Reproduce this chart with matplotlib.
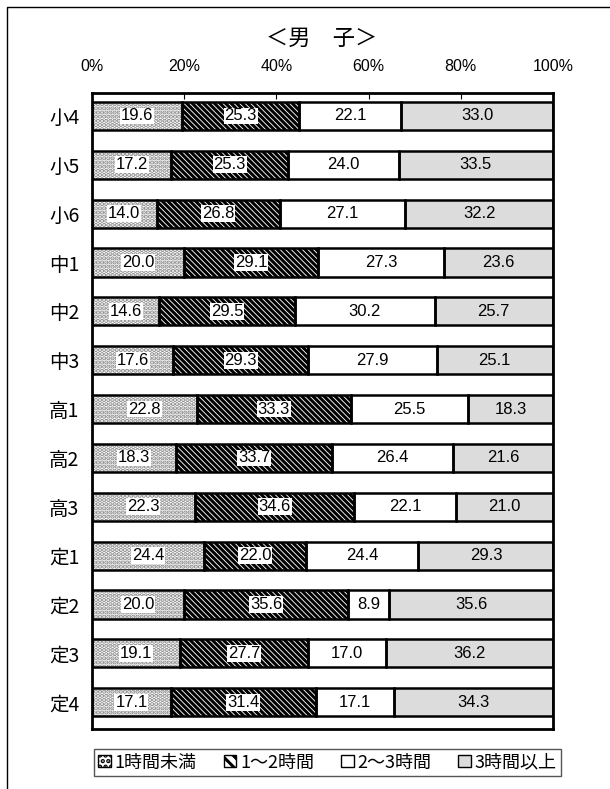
import matplotlib.pyplot as plt
import matplotlib.patches as mpatches
from matplotlib.lines import Line2D
import numpy as np

plt.rcParams['font.family'] = ['Noto Sans CJK JP', 'DejaVu Sans']
plt.rcParams['hatch.linewidth'] = 2.2

categories = ['小4', '小5', '小6', '中1', '中2', '中3', '高1', '高2', '高3',
              '定1', '定2', '定3', '定4']
under1 = [19.6, 17.2, 14.0, 20.0, 14.6, 17.6, 22.8, 18.3, 22.3, 24.4, 20.0, 19.1, 17.1]
h1to2 = [25.3, 25.3, 26.8, 29.1, 29.5, 29.3, 33.3, 33.7, 34.6, 22.0, 35.6, 27.7, 31.4]
h2to3 = [22.1, 24.0, 27.1, 27.3, 30.2, 27.9, 25.5, 26.4, 22.1, 24.4, 8.9, 17.0, 17.1]
over3 = [33.0, 33.5, 32.2, 23.6, 25.7, 25.1, 18.3, 21.6, 21.0, 29.3, 35.6, 36.2, 34.3]
series_names = ['1時間未満', '1～2時間', '2～3時間', '3時間以上']
xticks = [0, 20, 40, 60, 80, 100]

series = [under1, h1to2, h2to3, over3]
faces = ['white', 'white', 'white', '#dcdcdc']
hatches = ['....', '\\\\\\\\\\\\', None, None]
hcolors = ['#888888', 'black', 'black', 'black']
numfont = ['Liberation Sans', 'DejaVu Sans']

fig = plt.figure(figsize=(6.1, 7.89), dpi=100)
ax = fig.add_axes([0.1508, 0.0760, 0.7558, 0.8061])

y = np.arange(len(categories))
left = np.zeros(len(categories))
for vals, fc, ht, hc in zip(series, faces, hatches, hcolors):
    vals = np.array(vals)
    ax.barh(y, vals, left=left, height=0.575, color=fc, hatch=ht,
            edgecolor=hc, linewidth=0, zorder=2)
    # black outline on top of the hatch
    ax.barh(y, vals, left=left, height=0.575, fill=False,
            edgecolor='black', linewidth=1.8, zorder=3)
    for yi, l, v in zip(y, left, vals):
        t = ax.text(l + v / 2, yi, f'{v:.1f}', ha='center', va='center',
                    fontsize=12, family=numfont, zorder=5)
        if ht:
            t.set_bbox(dict(facecolor='white', edgecolor='none', pad=0.6))
    left += vals

ax.set_xlim(0, 100)
ax.set_ylim(12.55, -0.47)
ax.set_yticks(y)
ax.set_yticklabels(categories, fontsize=14)
ax.tick_params(axis='y', length=0, pad=9)
ax.xaxis.tick_top()
ax.set_xticks(xticks)
ax.set_xticklabels([f'{t}%' for t in xticks], fontsize=11.5, family=numfont)
ax.tick_params(axis='x', direction='in', length=4, pad=14)
for s in ax.spines.values():
    s.set_linewidth(2)

fig.text(0.528, 0.951, '＜男　子＞', ha='center', va='center', fontsize=16)

handles = [mpatches.Patch(facecolor=fc, hatch=ht, edgecolor='black', linewidth=1)
           for fc, ht in zip(faces, ['...', '\\\\\\', None, None])]
leg = fig.legend(handles, series_names, loc='center', ncol=4,
                 bbox_to_anchor=(0.537, 0.0336), fontsize=13,
                 handlelength=0.7, handleheight=0.7, handletextpad=0.2,
                 columnspacing=1.5, borderpad=0.25, fancybox=False,
                 edgecolor='#555555', framealpha=1)
leg.get_frame().set_linewidth(1)

# outer frame (left and top edges)
fig.add_artist(Line2D([7 / 610, 7 / 610, 1], [0, 1 - 7 / 789, 1 - 7 / 789],
                      transform=fig.transFigure, color='black', linewidth=1))

fig.savefig('out.png', dpi=100)
